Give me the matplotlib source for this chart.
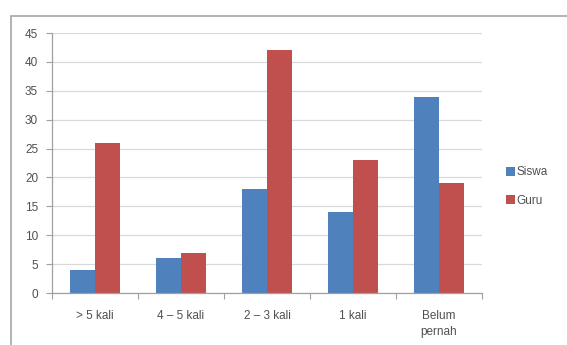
import numpy as np
import matplotlib.pyplot as plt
from matplotlib.patches import Rectangle

# data
kategori = ['> 5 kali', '4 \u2013 5 kali', '2 \u2013 3 kali', '1 kali', 'Belum\npernah']
siswa = [4, 6, 18, 14, 34]
guru = [26, 7, 42, 23, 19]

plt.rcParams['font.family'] = ['Liberation Sans', 'DejaVu Sans']
plt.rcParams['font.size'] = 8.5

fig = plt.figure(figsize=(5.67, 3.45), dpi=100)
ax = fig.add_axes([52/567, 1 - 293/345, 430/567, 260/345])

x = np.arange(len(kategori))
w = 0.29
ax.bar(x - w/2, siswa, w, color='#4F81BD', label='Siswa')
ax.bar(x + w/2, guru, w, color='#C0504D', label='Guru')

ax.set_xlim(-0.5, len(kategori) - 0.5)
ax.set_ylim(0, 45)
ax.set_yticks(range(0, 46, 5))
ax.yaxis.grid(True, color='#d9d9d9', linewidth=0.9)
ax.set_axisbelow(True)

# category labels sit between the boundary ticks
ax.set_xticks(np.arange(-0.5, len(kategori), 1))
ax.set_xticklabels([])
ax.set_xticks(x, minor=True)
ax.set_xticklabels(kategori, minor=True, linespacing=1.5)
ax.tick_params(axis='x', which='minor', length=0, pad=12, colors='#505050')
ax.tick_params(axis='x', which='major', length=4, color='#a0a0a0')
ax.tick_params(axis='y', length=4, color='#a0a0a0', colors='#505050', pad=6)
ax.tick_params(axis='y', which='both', color='#a0a0a0')

for s in ['top', 'right']:
    ax.spines[s].set_visible(False)
for s in ['left', 'bottom']:
    ax.spines[s].set_color('#a0a0a0')
    ax.spines[s].set_linewidth(0.9)

leg = ax.legend(loc='center left', bbox_to_anchor=(1.03, 0.41), frameon=False,
                handlelength=0.8, handleheight=0.8, handletextpad=0.15,
                labelspacing=1.4, labelcolor='#505050')

# outer frame of the chart
fig.patches.append(Rectangle((11/567, -0.05), 1.2, 1 - 16/345 + 0.05,
                             transform=fig.transFigure, fill=False,
                             edgecolor='#a6a6a6', linewidth=1.2))

fig.savefig('out.png', dpi=100)
